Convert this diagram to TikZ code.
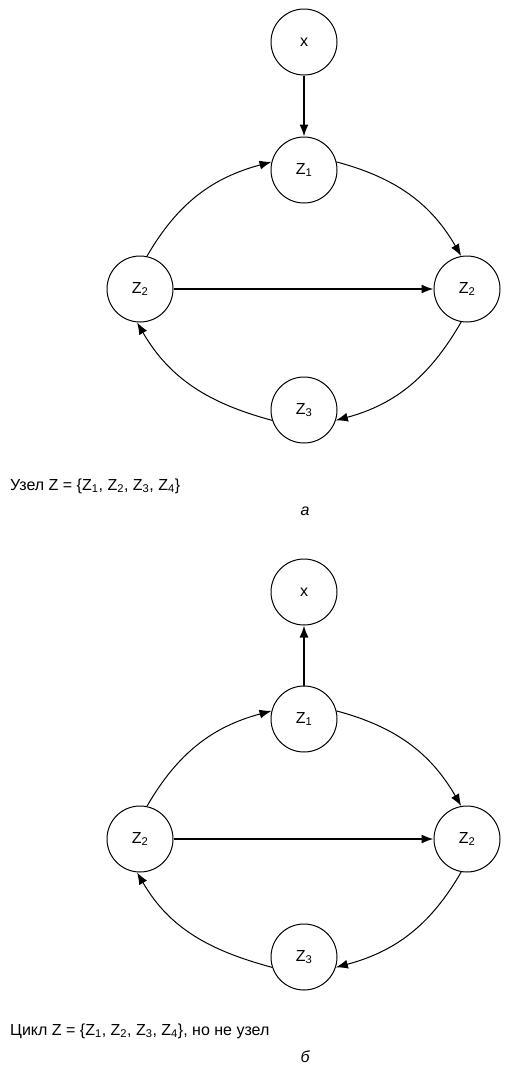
\documentclass[tikz,border=0pt]{standalone}
\usepackage{fontspec}
\setmainfont{Liberation Sans}
\usetikzlibrary{arrows.meta,positioning}
\tikzset{
  state/.style={draw, circle, line width=1pt, minimum size=66pt, inner sep=0pt,
    font=\fontsize{16}{18}\selectfont},
  caption/.style={font=\fontsize{16}{18}\selectfont, inner sep=0pt},
  arrow/.style={-{Latex[length=12pt,width=9pt]}, line width=1pt},
  straight/.style={-{Latex[length=12pt,width=9pt]}, line width=1.6pt}
}

\begin{document}
\begin{tikzpicture}[x=1pt, y=-1pt]
  \useasboundingbox (0,0) rectangle (513,1071);

  % (a) node
  \node[state] (xa) at (304,42) {x};
  \node[state] (z1a) at (304,170) {Z\textsubscript{1}};
  \node[state] (z2la) at (140,289) {Z\textsubscript{2}};
  \node[state] (z2ra) at (467,289) {Z\textsubscript{2}};
  \node[state] (z3a) at (304,410) {Z\textsubscript{3}};

  \draw[straight] (xa) -- (z1a);
  \draw[arrow] (z2la.78) to[out=60, in=195] (z1a.166);
  \draw[arrow] (z1a.14) to[out=-15, in=120] (z2ra.100);
  \draw[straight] (z2la) -- (z2ra);
  \draw[arrow] (z2ra.-100) to[out=-120, in=15] (z3a.-18);
  \draw[arrow] (z3a.-162) to[out=165, in=-60] (z2la.-95);

  \node[caption, anchor=base west] (capa) at (10,490)
    {Узел Z = \{Z\textsubscript{1}, Z\textsubscript{2}, Z\textsubscript{3}, Z\textsubscript{4}\}};
  \node[caption, anchor=base] (laba) at (305,515) {\itshape а};

  % (b) cycle
  \node[state] (xb) at (304,592) {x};
  \node[state] (z1b) at (304,719) {Z\textsubscript{1}};
  \node[state] (z2lb) at (140,839) {Z\textsubscript{2}};
  \node[state] (z2rb) at (467,839) {Z\textsubscript{2}};
  \node[state] (z3b) at (304,957) {Z\textsubscript{3}};

  \draw[straight] (z1b) -- (xb);
  \draw[arrow] (z2lb.78) to[out=60, in=195] (z1b.166);
  \draw[arrow] (z1b.14) to[out=-15, in=120] (z2rb.100);
  \draw[straight] (z2lb) -- (z2rb);
  \draw[arrow] (z2rb.-100) to[out=-120, in=15] (z3b.-18);
  \draw[arrow] (z3b.-162) to[out=165, in=-60] (z2lb.-95);

  \node[caption, anchor=base west] (capb) at (10,1035)
    {Цикл Z = \{Z\textsubscript{1}, Z\textsubscript{2}, Z\textsubscript{3}, Z\textsubscript{4}\}, но не узел};
  \node[caption, anchor=base] (labb) at (305,1062) {\itshape б};
\end{tikzpicture}
\end{document}
